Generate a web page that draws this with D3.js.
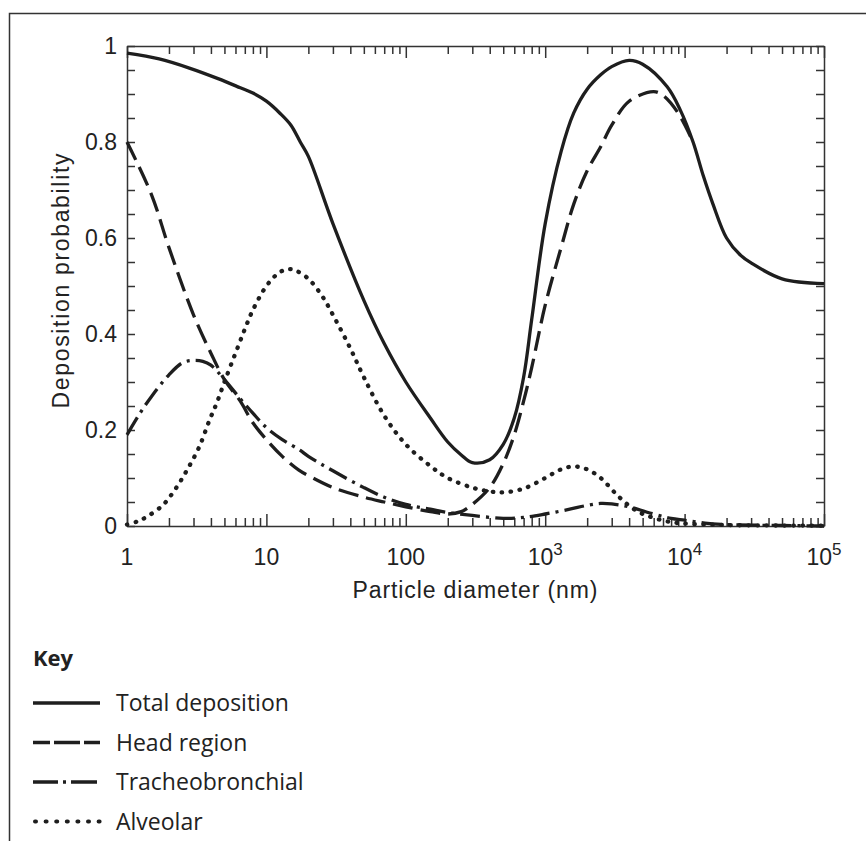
<!DOCTYPE html>
<html>
<head>
<meta charset="utf-8">
<script src="https://d3js.org/d3.v7.min.js"></script>
<style>
  body { margin: 0; background: #fff; }
</style>
</head>
<body>
<svg width="866" height="841"></svg>
<script>
// particle diameter (nm) and deposition probability for each curve
var totalD = [1, 1.7, 2.8, 4.5, 6.5, 8, 10, 12.5, 15, 17.5, 20, 30, 50, 70, 100, 150, 200, 250, 300, 400, 500, 600, 700, 800, 1000, 1300, 1600, 2000, 2500, 3000, 4000, 5000, 7500, 9300, 11500, 13600, 16000, 20000, 25000, 30000, 50000, 100000];
var totalP = [0.985, 0.973, 0.954, 0.932, 0.913, 0.902, 0.885, 0.86, 0.835, 0.80, 0.77, 0.63, 0.47, 0.38, 0.30, 0.225, 0.175, 0.148, 0.132, 0.138, 0.17, 0.225, 0.31, 0.43, 0.63, 0.78, 0.86, 0.91, 0.94, 0.957, 0.97, 0.962, 0.915, 0.867, 0.80, 0.73, 0.67, 0.60, 0.565, 0.548, 0.515, 0.505];

var headD = [1, 1.5, 2, 3, 4, 5, 6.5, 8, 10, 13, 17, 20, 30, 50, 70, 100, 150, 200, 250, 300, 400, 500, 600, 700, 800, 1000, 1300, 1600, 2000, 2500, 3000, 4000, 6000, 7000, 9000, 11500];
var headP = [0.80, 0.69, 0.58, 0.44, 0.36, 0.305, 0.26, 0.215, 0.18, 0.145, 0.117, 0.105, 0.08, 0.06, 0.05, 0.04, 0.03, 0.025, 0.03, 0.045, 0.08, 0.13, 0.19, 0.26, 0.33, 0.46, 0.58, 0.67, 0.74, 0.79, 0.835, 0.885, 0.905, 0.897, 0.86, 0.80];

var tracheoD = [1, 1.24, 1.5, 2, 2.5, 3, 3.5, 4, 5, 6.5, 8, 10, 13, 17.4, 20, 30, 50, 70, 100, 150, 200, 300, 500, 700, 1000, 1500, 2000, 2500, 3000, 4000, 6000, 8000, 10000, 14000, 20000, 50000, 100000];
var tracheoP = [0.19, 0.235, 0.27, 0.315, 0.34, 0.345, 0.343, 0.335, 0.305, 0.265, 0.235, 0.205, 0.18, 0.158, 0.145, 0.115, 0.08, 0.06, 0.045, 0.035, 0.028, 0.022, 0.016, 0.018, 0.025, 0.035, 0.043, 0.047, 0.046, 0.04, 0.025, 0.016, 0.012, 0.006, 0.003, 0.001, 0];

var alvD = [1, 1.2, 1.4, 1.8, 2.2, 2.7, 3.3, 3.9, 4.4, 5, 6, 7, 8, 10, 12, 14, 16, 20, 25, 30, 40, 50, 70, 100, 150, 200, 300, 400, 500, 700, 1000, 1300, 1600, 2000, 2500, 3400, 4500, 6000, 8000, 10000, 20000, 50000, 100000];
var alvP = [0.003, 0.01, 0.02, 0.043, 0.075, 0.117, 0.165, 0.22, 0.256, 0.30, 0.36, 0.41, 0.45, 0.50, 0.525, 0.535, 0.533, 0.515, 0.48, 0.44, 0.37, 0.31, 0.23, 0.17, 0.125, 0.10, 0.08, 0.072, 0.07, 0.078, 0.10, 0.118, 0.124, 0.118, 0.10, 0.06, 0.032, 0.017, 0.008, 0.005, 0.002, 0.001, 0.001];

var yTicks = [0, 0.2, 0.4, 0.6, 0.8, 1];
var xDecades = [1, 10, 100, 1000, 10000, 100000];
var xLabels = ["1", "10", "100", "10|3", "10|4", "10|5"];
var keyNames = ["Total deposition", "Head region", "Tracheobronchial", "Alveolar"];

(function() {
  var svg = d3.select("svg");
  var plotL = 127, plotR = 824, plotT = 46, plotB = 526;
  var ink = "#1e1e1e", axisInk = "#333";
  var labelFont = "'Liberation Sans', Arial, sans-serif";

  // outer frame (top and left only)
  svg.append("path")
    .attr("d", "M9.5,841 V13.5 H866")
    .attr("fill", "none").attr("stroke", axisInk).attr("stroke-width", 1.5);

  var x = d3.scaleLog().domain([1, 100000]).range([plotL, plotR]);
  var y = d3.scaleLinear().domain([0, 1]).range([plotB, plotT]);

  var minorX = [];
  for (var e = 0; e < 5; e++) {
    for (var m = 2; m <= 9; m++) minorX.push(m * Math.pow(10, e));
  }
  var fineY = d3.range(0, 21).map(function(i) { return i * 0.05; });

  function styleAxis(g) {
    g.select(".domain").attr("stroke", axisInk).attr("stroke-width", 1.5);
    g.selectAll(".tick line").attr("stroke", axisInk).attr("stroke-width", 1.5);
  }

  // bottom: minor + decade ticks pointing in
  svg.append("g").attr("transform", "translate(0," + plotB + ")")
    .call(d3.axisBottom(x).tickValues(minorX).tickSize(-8).tickFormat("").tickSizeOuter(0))
    .call(styleAxis);
  svg.append("g").attr("transform", "translate(0," + plotB + ")")
    .call(d3.axisBottom(x).tickValues(xDecades).tickSize(-12).tickFormat("").tickSizeOuter(0))
    .call(styleAxis).select(".domain").remove();

  // top
  svg.append("g").attr("transform", "translate(0," + plotT + ")")
    .call(d3.axisTop(x).tickValues(minorX).tickSize(-8).tickFormat("").tickSizeOuter(0))
    .call(styleAxis);
  svg.append("g").attr("transform", "translate(0," + plotT + ")")
    .call(d3.axisTop(x).tickValues(xDecades).tickSize(-12).tickFormat("").tickSizeOuter(0))
    .call(styleAxis).select(".domain").remove();

  // left and right
  svg.append("g").attr("transform", "translate(" + plotL + ",0)")
    .call(d3.axisLeft(y).tickValues(fineY).tickSize(-8).tickFormat("").tickSizeOuter(0))
    .call(styleAxis);
  svg.append("g").attr("transform", "translate(" + plotR + ",0)")
    .call(d3.axisRight(y).tickValues(fineY).tickSize(-8).tickFormat("").tickSizeOuter(0))
    .call(styleAxis);

  // y tick labels
  svg.append("g").selectAll("text").data(yTicks).join("text")
    .attr("x", plotL - 10)
    .attr("y", function(d) { return y(d) + 8; })
    .attr("text-anchor", "end")
    .attr("font-family", labelFont)
    .attr("font-size", 23).attr("fill", "#222")
    .text(function(d) { return d === 0 || d === 1 ? String(d) : d.toFixed(1); });

  // x tick labels
  svg.append("g").selectAll("text").data(xDecades).join("text")
    .attr("x", function(d) { return x(d); })
    .attr("y", 565)
    .attr("text-anchor", "middle")
    .attr("font-family", labelFont)
    .attr("font-size", 23).attr("fill", "#222")
    .each(function(d, i) {
      var parts = xLabels[i].split("|");
      var t = d3.select(this);
      t.append("tspan").text(parts[0]);
      if (parts[1]) t.append("tspan").attr("dy", -10).attr("font-size", 17).text(parts[1]);
    });

  // axis titles
  svg.append("text")
    .attr("x", 475).attr("y", 598)
    .attr("text-anchor", "middle")
    .attr("font-family", labelFont)
    .attr("font-size", 23).attr("fill", "#222")
    .attr("textLength", 245).attr("lengthAdjust", "spacing")
    .text("Particle diameter (nm)");

  svg.append("text")
    .attr("transform", "translate(69,281) rotate(-90)")
    .attr("text-anchor", "middle")
    .attr("font-family", labelFont)
    .attr("font-size", 23).attr("fill", "#222")
    .attr("textLength", 255).attr("lengthAdjust", "spacing")
    .text("Deposition probability");

  // curves
  var line = d3.line()
    .x(function(d) { return x(d[0]); })
    .y(function(d) { return y(d[1]); })
    .curve(d3.curveCatmullRom.alpha(0.5));

  var series = [
    { d: totalD, p: totalP, dash: null, cap: "butt" },
    { d: headD, p: headP, dash: "20,8", cap: "butt" },
    { d: tracheoD, p: tracheoP, dash: "20,6,3,6", cap: "butt" },
    { d: alvD, p: alvP, dash: "0.5,8.5", cap: "round" }
  ];

  svg.append("g").selectAll("path").data(series).join("path")
    .attr("d", function(s) { return line(d3.zip(s.d, s.p)); })
    .attr("fill", "none")
    .attr("stroke", ink)
    .attr("stroke-width", function(s, i) { return i === 3 ? 4.3 : 3.3; })
    .attr("stroke-linecap", function(s) { return s.cap; })
    .attr("stroke-dasharray", function(s) { return s.dash; });

  // key
  var keyFont = "'Open Sans', 'Noto Sans', sans-serif";
  svg.append("text")
    .attr("x", 33).attr("y", 666)
    .attr("font-family", keyFont).attr("font-weight", 700)
    .attr("font-size", 22).attr("fill", "#222")
    .text("Key");

  var keyDash = [null, "17,4,26,4,17", "25,5,3,5,26", "1,9.6"];
  var keyRows = svg.append("g").selectAll("g").data(keyNames).join("g")
    .attr("transform", function(d, i) { return "translate(0," + (703 + i * 39.5) + ")"; });
  keyRows.append("line")
    .attr("x1", function(d, i) { return i === 3 ? 35 : 33; })
    .attr("x2", 100)
    .attr("stroke", ink)
    .attr("stroke-width", function(d, i) { return i === 3 ? 4 : 3.5; })
    .attr("stroke-linecap", function(d, i) { return i === 3 ? "round" : "butt"; })
    .attr("stroke-dasharray", function(d, i) { return keyDash[i]; });
  keyRows.append("text")
    .attr("x", 116).attr("y", 8)
    .attr("font-family", keyFont)
    .attr("font-size", 23).attr("fill", "#222")
    .text(function(d) { return d; });
})();
</script>
</body>
</html>
